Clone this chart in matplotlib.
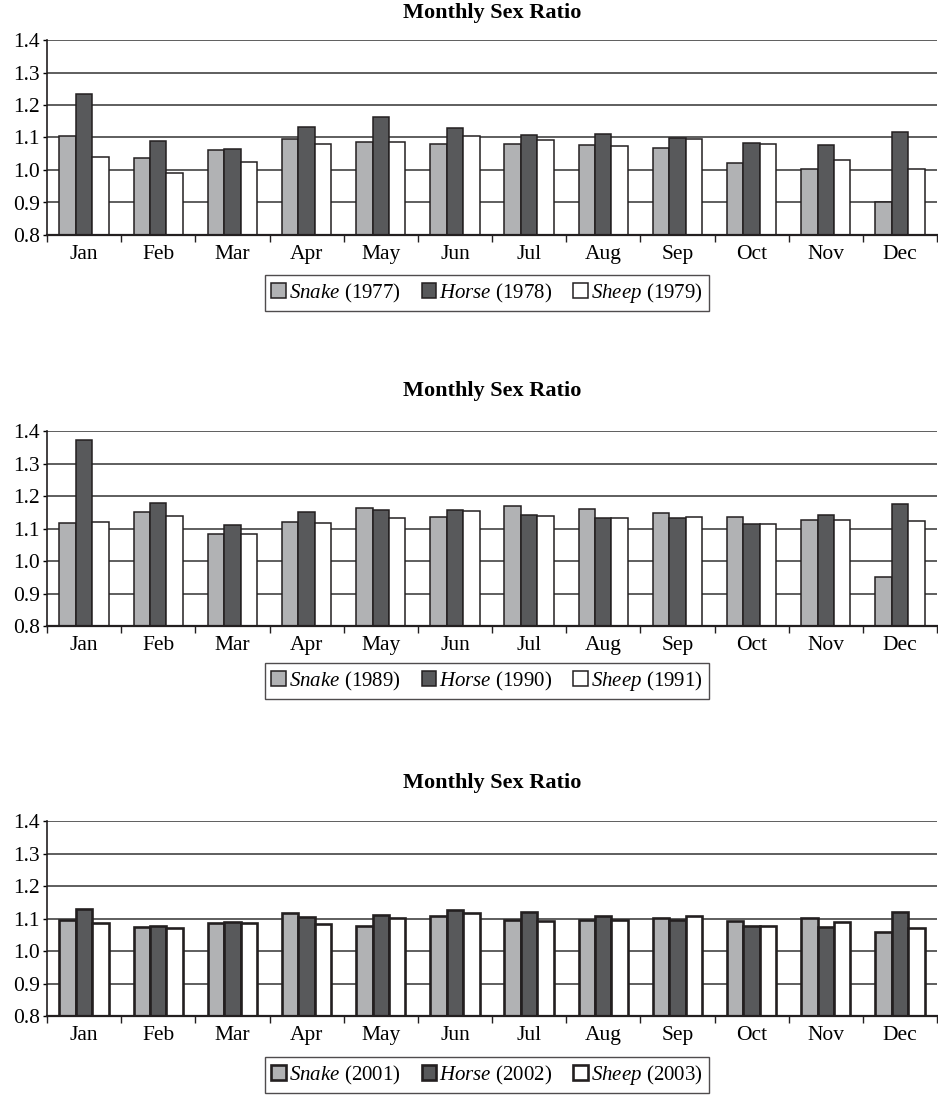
import numpy as np
import matplotlib
matplotlib.use('Agg')
import matplotlib.pyplot as plt
from matplotlib.ticker import FixedLocator, FormatStrFormatter

plt.rcParams['font.family'] = 'Liberation Serif'
plt.rcParams['mathtext.fontset'] = 'custom'
plt.rcParams['mathtext.rm'] = 'Liberation Serif'
plt.rcParams['mathtext.it'] = 'Liberation Serif:italic'

months = ['Jan', 'Feb', 'Mar', 'Apr', 'May', 'Jun',
          'Jul', 'Aug', 'Sep', 'Oct', 'Nov', 'Dec']

# 1977-1979
snake_77 = [1.106, 1.038, 1.063, 1.094, 1.087, 1.080, 1.080, 1.077, 1.068, 1.022, 1.003, 0.900]
horse_78 = [1.234, 1.089, 1.066, 1.131, 1.162, 1.128, 1.109, 1.111, 1.098, 1.084, 1.076, 1.117]
sheep_79 = [1.041, 0.992, 1.024, 1.080, 1.085, 1.106, 1.092, 1.074, 1.094, 1.080, 1.030, 1.003]

# 1989-1991
snake_89 = [1.118, 1.151, 1.083, 1.119, 1.164, 1.134, 1.170, 1.160, 1.149, 1.135, 1.126, 0.951]
horse_90 = [1.373, 1.178, 1.111, 1.152, 1.157, 1.157, 1.143, 1.133, 1.133, 1.114, 1.142, 1.174]
sheep_91 = [1.119, 1.138, 1.084, 1.116, 1.132, 1.155, 1.138, 1.133, 1.135, 1.114, 1.126, 1.124]

# 2001-2003
snake_01 = [1.096, 1.075, 1.086, 1.118, 1.077, 1.108, 1.095, 1.095, 1.102, 1.092, 1.102, 1.059]
horse_02 = [1.130, 1.076, 1.089, 1.105, 1.110, 1.126, 1.120, 1.107, 1.096, 1.077, 1.073, 1.121]
sheep_03 = [1.087, 1.071, 1.085, 1.082, 1.103, 1.116, 1.091, 1.095, 1.107, 1.077, 1.089, 1.072]

panels = [
    (snake_77, horse_78, sheep_79, ('1977', '1978', '1979')),
    (snake_89, horse_90, sheep_91, ('1989', '1990', '1991')),
    (snake_01, horse_02, sheep_03, ('2001', '2002', '2003')),
]

W, H = 938, 1103
fig = plt.figure(figsize=(W / 100, H / 100), dpi=100)

# pixel boxes: (top, bottom) of each axes, title y, legend y
tops = [40, 431, 821]
bottoms = [235, 626, 1016]
title_y = [13, 391, 783]
leg_y = [293, 681, 1075]
edge_w = [1.1, 1.1, 1.9]

c_snake = '#b1b2b4'
c_horse = '#58595b'
c_sheep = '#ffffff'
c_edge = '#231f20'

x = np.arange(len(months))
bw = 0.222

for i, (s, h, sh, yrs) in enumerate(panels):
    left = 47 / W
    width = (937 - 47) / W
    ax = fig.add_axes([left, 1 - bottoms[i] / H, width, (bottoms[i] - tops[i]) / H])
    ax.set_axisbelow(True)
    lw = edge_w[i]
    b1 = ax.bar(x - bw, s, bw, color=c_snake, edgecolor=c_edge, linewidth=lw)
    b2 = ax.bar(x, h, bw, color=c_horse, edgecolor=c_edge, linewidth=lw)
    b3 = ax.bar(x + bw, sh, bw, color=c_sheep, edgecolor=c_edge, linewidth=lw)
    ax.set_ylim(0.8, 1.4)
    ax.set_xlim(-0.5, 11.5)
    ax.set_yticks(np.arange(0.8, 1.41, 0.1))
    ax.yaxis.set_major_formatter(FormatStrFormatter('%.1f'))
    ax.yaxis.grid(True, color='#333333', linewidth=1.1)
    ax.set_xticks(x)
    ax.set_xticklabels(months)
    ax.xaxis.set_minor_locator(FixedLocator(np.arange(-0.5, 11.6, 1.0)))
    ax.tick_params(axis='x', which='major', length=0, pad=7, labelsize=15.5)
    ax.tick_params(axis='x', which='minor', length=5, width=1.0, color='#231f20')
    ax.tick_params(axis='y', length=3, width=1.0, labelsize=15.5, pad=2)
    for sp in ['top', 'right']:
        ax.spines[sp].set_visible(False)
    ax.spines['left'].set_linewidth(1.2)
    ax.spines['bottom'].set_linewidth(1.6)
    ax.spines['left'].set_color('#231f20')
    ax.spines['bottom'].set_color('#231f20')

    fig.text(492 / W, 1 - title_y[i] / H, 'Monthly Sex Ratio', ha='center', va='center',
             fontsize=16, fontweight='bold')

    labels = [r'$\mathit{Snake}$ (%s)' % yrs[0],
              r'$\mathit{Horse}$ (%s)' % yrs[1],
              r'$\mathit{Sheep}$ (%s)' % yrs[2]]
    leg = fig.legend([b1, b2, b3], labels, loc='center', ncol=3,
                     bbox_to_anchor=(487 / W, 1 - leg_y[i] / H),
                     fontsize=15, frameon=True, fancybox=False,
                     handlelength=0.7, handleheight=0.7, handletextpad=0.15,
                     columnspacing=1.0, borderpad=0.3, edgecolor='#231f20')
    leg.get_frame().set_linewidth(1.0)

fig.savefig('out.png', dpi=100)
